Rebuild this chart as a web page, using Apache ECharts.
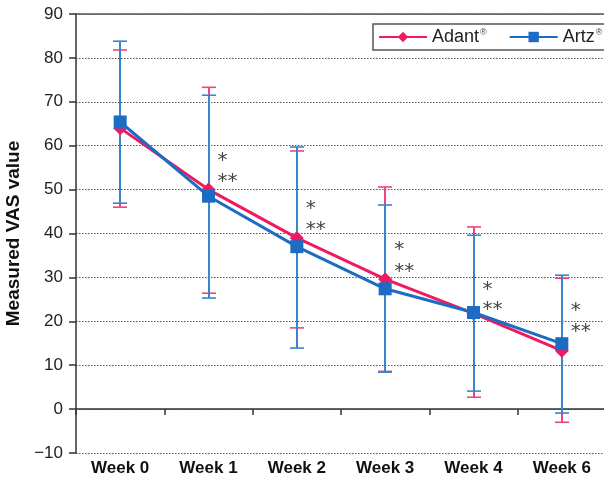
<!DOCTYPE html>
<html><head><meta charset="utf-8">
<script src="https://cdn.jsdelivr.net/npm/echarts@6/dist/echarts.min.js"></script>
<style>html,body{margin:0;padding:0;background:#fff}#c{width:604px;height:481px}</style>
</head><body><div id="c"></div>
<script>
var categories = ['Week 0','Week 1','Week 2','Week 3','Week 4','Week 6'];
var adantMean = [64.0, 50.0, 39.0, 29.6, 21.8, 13.3];
var adantLow  = [46.0, 26.4, 18.5, 8.6, 2.7, -3.0];
var adantHigh = [81.8, 73.3, 58.8, 50.6, 41.5, 29.8];
var artzMean  = [65.4, 48.5, 37.0, 27.4, 22.0, 14.9];
var artzLow   = [46.9, 25.3, 13.9, 8.4, 4.1, -0.9];
var artzHigh  = [83.8, 71.5, 59.7, 46.5, 39.6, 30.5];
var star1Y    = [null, 57.4, 46.5, 37.1, 28.0, 23.2];
var star2Y    = [null, 52.6, 41.7, 32.3, 23.5, 18.5];
var yTicks    = [-10, 0, 10, 20, 30, 40, 50, 60, 70, 80, 90];

var PINK = '#ef1a62', BLUE = '#1b6cc2', BLUE_EB = '#3a84cc', PINK_EB = '#f0457c';

function errData(lo, hi){ return categories.map(function(c,i){ return [i, lo[i], hi[i]]; }); }
function errRender(color){
  return function(params, api){
    var x = api.value(0);
    var p1 = api.coord([x, api.value(1)]);
    var p2 = api.coord([x, api.value(2)]);
    var cx = Math.round(p1[0]);
    var w = 7;
    var st = {stroke: color, lineWidth: 2};
    return {type:'group', children:[
      {type:'line', shape:{x1:cx,y1:p1[1],x2:cx,y2:p2[1]}, style:st},
      {type:'line', shape:{x1:cx-w,y1:p1[1],x2:cx+w,y2:p1[1]}, style:{stroke:color, lineWidth:1.6}},
      {type:'line', shape:{x1:cx-w,y1:p2[1],x2:cx+w,y2:p2[1]}, style:{stroke:color, lineWidth:1.6}}
    ]};
  };
}
function starData(arr){ var d=[]; arr.forEach(function(v,i){ if(v!=null) d.push([i,v]); }); return d; }
function starRender(txt, dx){
  return function(params, api){
    var p = api.coord([api.value(0), api.value(1)]);
    return {type:'text', x:p[0]+dx, y:p[1]+4, style:{text:txt, fill:'#444', font:'20px "DejaVu Sans", Arial', textAlign:'center', textVerticalAlign:'middle'}};
  };
}

var chart = echarts.init(document.getElementById('c'), null, {renderer:'canvas'});
chart.setOption({
  animation:false,
  backgroundColor:'#fff',
  grid:{left:76, right:-2, top:14, bottom:28, containLabel:false, outerBoundsMode:'none'},
  legend:{
    orient:'horizontal', left:373, top:24, width:300, padding:[4,8,4,5], itemWidth:48, itemHeight:13, itemGap:22,
    backgroundColor:'#fff', borderColor:'#555', borderWidth:1.5, borderRadius:0,
    data:['Adant','Artz'],
    formatter:function(n){ return '{t|'+n+'}{s|®}'; },
    textStyle:{fontFamily:'"Liberation Sans", Arial', fontSize:18, color:'#222',
      rich:{t:{fontSize:18, fontFamily:'"Liberation Sans", Arial', color:'#222'}, s:{fontSize:9, verticalAlign:'top', padding:[0,0,9,1], color:'#444'}}}
  },
  xAxis:[
    {type:'category', data:categories, position:'bottom',
      axisLine:{onZero:true, lineStyle:{color:'#333', width:1.5}},
      axisTick:{show:true, length:6, lineStyle:{color:'#333', width:1.5}},
      axisLabel:{show:false}, splitLine:{show:false}},
    {type:'category', data:categories, position:'bottom',
      axisLine:{show:false, onZero:false}, axisTick:{show:false},
      axisLabel:{show:true, margin:7, fontSize:17, fontWeight:'bold', color:'#111', fontFamily:'"Liberation Sans", Arial'}},
    {type:'category', data:categories, position:'top',
      axisLine:{show:true, onZero:false, lineStyle:{color:'#555', width:1.5}}, axisTick:{show:false}, axisLabel:{show:false}}
  ],
  yAxis:{type:'value', min:yTicks[0], max:yTicks[yTicks.length-1], interval:10,
    name:'Measured VAS value', nameLocation:'middle', nameGap:46, nameRotate:90,
    nameTextStyle:{fontSize:19, fontWeight:'bold', color:'#111', fontFamily:'"Liberation Sans", Arial'},
    axisLine:{show:true, lineStyle:{color:'#333', width:1.5}},
    axisTick:{show:true, length:7, lineStyle:{color:'#333', width:1.5}},
    axisLabel:{fontSize:17, color:'#222', margin:13, fontFamily:'"Liberation Sans", Arial',
      formatter:function(v){ return v<0 ? '\u2212'+Math.abs(v) : String(v); }},
    splitLine:{show:true, lineStyle:{color:'#555', type:[1.5,1.5], width:1}}
  },
  series:[
    {name:'AdantErr', type:'custom', renderItem:errRender(PINK_EB), data:errData(adantLow, adantHigh), z:2, encode:{x:0,y:[1,2]}},
    {name:'ArtzErr', type:'custom', renderItem:errRender(BLUE_EB), data:errData(artzLow, artzHigh), z:3, encode:{x:0,y:[1,2]}},
    {name:'Adant', type:'line', data:adantMean, symbol:'diamond', symbolSize:14, showSymbol:true,
      lineStyle:{color:PINK, width:3}, itemStyle:{color:PINK}, z:4},
    {name:'Artz', type:'line', data:artzMean, symbol:'rect', symbolSize:13, showSymbol:true,
      lineStyle:{color:BLUE, width:3}, itemStyle:{color:BLUE}, z:5},
    {name:'s1', type:'custom', renderItem:starRender('*', 14), data:starData(star1Y), z:6, encode:{x:0,y:1}},
    {name:'s2', type:'custom', renderItem:starRender('**', 19), data:starData(star2Y), z:6, encode:{x:0,y:1}}
  ]
});
</script></body></html>
